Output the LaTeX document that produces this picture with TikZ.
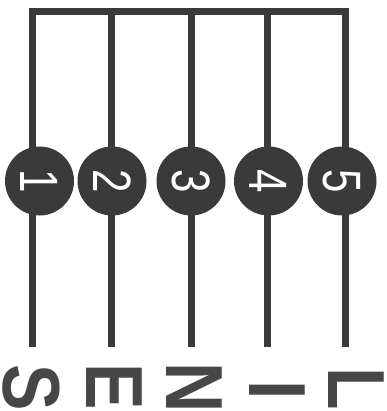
\documentclass[tikz,border=0pt]{standalone}
\usepackage{fontspec}
\setmainfont{Liberation Sans}
\usepackage{graphicx}
\usepackage{tikz}
\usetikzlibrary{positioning}

\definecolor{inkgray}{HTML}{3A3A3A}
\definecolor{letgray}{HTML}{474747}
\newcommand{\squeeze}[2][0.78]{\scalebox{#1}[1]{#2}}

\begin{document}
\begin{tikzpicture}[
    x=1pt, y=-1pt,
    wire/.style={draw=inkgray, line width=7pt},
    dot/.style={circle, fill=inkgray, minimum size=69pt, inner sep=0pt, rotate=-90, text=white, font=\fontsize{54}{54}\selectfont},
    letter/.style={inner sep=0pt, rotate=-90, text=letgray, font=\fontsize{81}{81}\selectfont\bfseries}
]
\useasboundingbox (0,0) rectangle (386,411);

% Line ends
\coordinate (top1) at (32.5,11.5);
\coordinate (top2) at (111,11.5);
\coordinate (top3) at (191,11.5);
\coordinate (top4) at (267.5,11.5);
\coordinate (top5) at (345.5,11.5);
\coordinate (bot1) at (32.5,347);
\coordinate (bot2) at (111,347);
\coordinate (bot3) at (191,347);
\coordinate (bot4) at (267.5,347);
\coordinate (bot5) at (345.5,347);

% Frame and lines
\draw[wire, line join=miter] (bot1) -- (top1) -- (top5) -- (bot5);
\draw[wire] (top2) -- (bot2);
\draw[wire] (top3) -- (bot3);
\draw[wire] (top4) -- (bot4);

% Numbered dots
\node[dot] (dot1) at (39.5,181) {\squeeze{1}};
\node[dot] (dot2) at (112,181) {\squeeze{2}};
\node[dot] (dot3) at (191,181) {\squeeze{3}};
\node[dot] (dot4) at (268.5,181) {\squeeze{4}};
\node[dot] (dot5) at (342,181) {\squeeze{5}};

% Letters
\node[letter] (ltrS) at (31,388) {\squeeze[0.86]{S}};
\node[letter] (ltrE) at (114,387) {\squeeze[0.86]{E}};
\node[letter] (ltrN) at (194,388) {\squeeze[0.86]{N}};
\node[letter] (ltrI) at (277,390) {\squeeze[0.86]{I}};
\node[letter] (ltrL) at (356,389) {\squeeze[0.86]{L}};

\end{tikzpicture}
\end{document}
